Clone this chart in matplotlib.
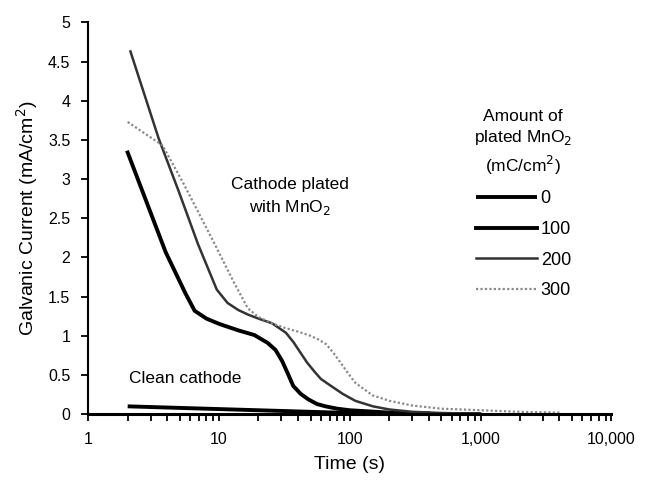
import matplotlib
matplotlib.use('Agg')
import matplotlib.pyplot as plt
from matplotlib.ticker import FixedLocator, FixedFormatter, LogLocator, NullFormatter

plt.rcParams['font.family'] = ['Liberation Sans', 'DejaVu Sans']

# time (s) and galvanic current (mA/cm2) for each amount of plated MnO2
t_0 = [2, 5, 10, 20, 50, 100, 200, 500, 1000]
i_0 = [0.10, 0.08, 0.065, 0.05, 0.03, 0.015, 0.006, 0.002, 0.0]

t_100 = [2.0, 3.9, 5.5, 6.5, 8.0, 10.1, 14, 18.6, 23.5, 27, 30.3, 33.5, 36.9, 42, 48,
         56, 65, 80, 100, 200, 400]
i_100 = [3.34, 2.07, 1.55, 1.32, 1.22, 1.15, 1.07, 1.01, 0.91, 0.82, 0.68, 0.52, 0.36,
         0.26, 0.19, 0.13, 0.10, 0.07, 0.05, 0.02, 0.01]

t_200 = [2.1, 3.45, 4.9, 6.9, 9.6, 11.6, 14, 16.7, 20, 25.4, 32.4, 37, 41.7, 47, 53.8,
         60, 68.9, 88, 110, 150, 200, 300, 500, 1000]
i_200 = [4.63, 3.52, 2.85, 2.17, 1.59, 1.42, 1.33, 1.27, 1.22, 1.16, 1.04, 0.92, 0.79,
         0.66, 0.54, 0.45, 0.38, 0.26, 0.17, 0.10, 0.06, 0.03, 0.015, 0.005]

t_300 = [2.0, 3.7, 5.4, 9.2, 13, 16.6, 20, 25.4, 32, 40.9, 50, 58, 66.2, 75, 85.5, 97,
         110, 149, 201, 300, 500, 1000, 2000, 4000]
i_300 = [3.73, 3.43, 2.93, 2.18, 1.68, 1.35, 1.24, 1.16, 1.10, 1.05, 1.00, 0.95, 0.89,
         0.78, 0.65, 0.52, 0.40, 0.24, 0.17, 0.11, 0.07, 0.05, 0.03, 0.02]

x_ticks = [1, 10, 100, 1000, 10000]
x_labels = ['1', '10', '100', '1,000', '10,000']
y_ticks = [0, 0.5, 1, 1.5, 2, 2.5, 3, 3.5, 4, 4.5, 5]
y_labels = ['0', '0.5', '1', '1.5', '2', '2.5', '3', '3.5', '4', '4.5', '5']

fig = plt.figure(figsize=(6.54, 4.99), dpi=100)
ax = fig.add_axes([0.135, 0.17, 0.80, 0.785])

ax.plot(t_0, i_0, color='black', lw=2.8, label='0', solid_capstyle='butt')
ax.plot(t_100, i_100, color='black', lw=2.8, label='100')
ax.plot(t_200, i_200, color='#333333', lw=1.8, label='200')
ax.plot(t_300, i_300, color='#8a8a8a', lw=1.6, ls=(0, (1, 1)), label='300')

ax.set_xscale('log')
ax.set_xlim(1, 10000)
ax.set_ylim(0, 5)
ax.xaxis.set_major_locator(FixedLocator(x_ticks))
ax.xaxis.set_major_formatter(FixedFormatter(x_labels))
ax.xaxis.set_minor_locator(LogLocator(base=10, subs=range(2, 10)))
ax.xaxis.set_minor_formatter(NullFormatter())
ax.yaxis.set_major_locator(FixedLocator(y_ticks))
ax.yaxis.set_major_formatter(FixedFormatter(y_labels))

for s in ['top', 'right']:
    ax.spines[s].set_visible(False)
ax.spines['left'].set_linewidth(1.5)
ax.spines['bottom'].set_linewidth(2.2)
ax.tick_params(axis='both', which='major', direction='out', length=5, width=1.3,
               labelsize=11.5, pad=8)
ax.tick_params(axis='x', which='minor', direction='out', length=5, width=1.3)

ax.set_xlabel('Time (s)', fontsize=14, labelpad=6)
ax.set_ylabel('Galvanic Current (mA/cm$^2$)', fontsize=14, labelpad=6)

ax.text(0.385, 0.555, 'Cathode plated\nwith MnO$_2$', transform=ax.transAxes,
        ha='center', va='center', fontsize=12.5, linespacing=1.4)
ax.text(0.185, 0.09, 'Clean cathode', transform=ax.transAxes,
        ha='center', va='center', fontsize=12.5)

leg = ax.legend(loc='upper left', bbox_to_anchor=(0.70, 0.815),
                bbox_transform=fig.transFigure, frameon=False,
                title='Amount of\nplated MnO$_2$\n(mC/cm$^2$)',
                fontsize=13, title_fontsize=12.5, handlelength=3.4,
                handletextpad=0.2, labelspacing=0.75)
leg.get_title().set_multialignment('center')
leg.get_title().set_linespacing(1.35)

fig.savefig('out.png', dpi=100)
